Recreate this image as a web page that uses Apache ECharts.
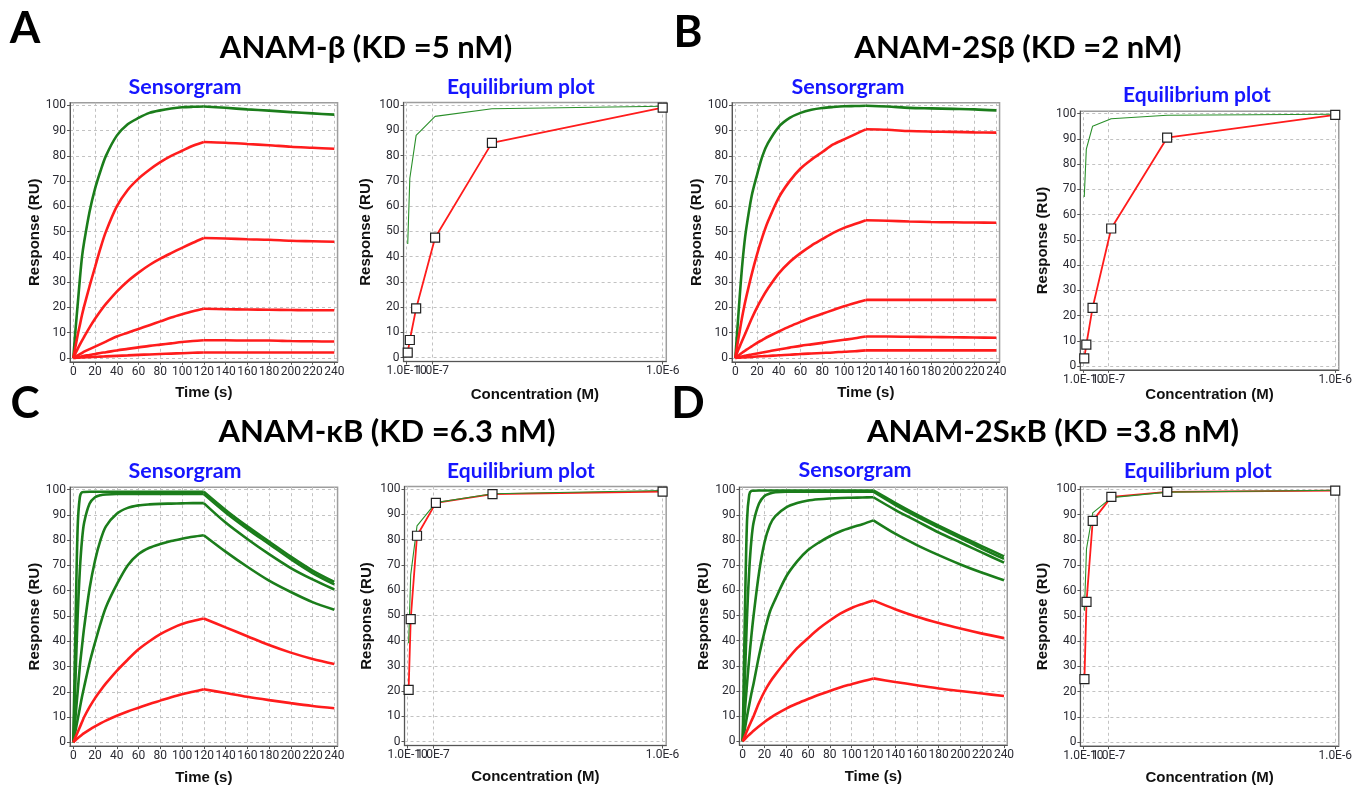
<!DOCTYPE html>
<html><head><meta charset="utf-8">
<script src="https://cdn.jsdelivr.net/npm/echarts@6/dist/echarts.min.js"></script>
<style>html,body{margin:0;padding:0;background:#fff}#c{width:1355px;height:788px}</style>
</head><body><div id="c"></div>
<script>
// ---------- shared axes data ----------
const TIME = [0,2,4,6,8,10,15,20,25,30,40,50,60,70,80,90,100,110,120,140,160,180,200,220,240];
const INJECTION_END = 120;
const TIME_TICKS = [0,20,40,60,80,100,120,140,160,180,200,220,240];
const RESP_TICKS = [0,10,20,30,40,50,60,70,80,90,100];
const CONC_NM = [4.1,12.3,37,111,333,1000];
const CONC_TICK_VALUES = [0.1,100,1000];
const CONC_TICK_LABELS = ['1.0E-10','1.0E-7','1.0E-6'];

// ---------- panel A : ANAM-beta ----------
const A_S1 = [0,11,21,31,40,46,58,67,74,80,88,92.5,95,97,98,98.7,99.2,99.4,99.5,99,98.4,97.9,97.3,96.8,96.3];
const A_S2 = [0,4.5,9,13,17,20.5,28.5,36,43.5,50,60,66.5,71,74.5,77.5,80,82,84,85.5,85.2,84.7,84.2,83.6,83.2,82.8];
const A_S3 = [0,1.8,3.6,5.3,6.9,8.4,12.1,15.5,18.6,21.4,26.3,30.4,33.8,36.8,39.3,41.5,43.6,45.6,47.5,47.3,47,46.8,46.4,46.2,46];
const A_S4 = [0,0.5,1,1.5,2,2.5,3.5,4.5,5.5,6.5,8.5,10,11.5,13,14.5,16,17.3,18.5,19.5,19.3,19.2,19.1,19,18.9,18.9];
const A_S5 = [0,0.2,0.4,0.5,0.7,0.9,1.2,1.6,2,2.3,3,3.6,4.2,4.8,5.3,5.8,6.3,6.7,7,7,6.9,6.9,6.7,6.6,6.5];
const A_S6 = [0,0.05,0.1,0.15,0.2,0.25,0.35,0.45,0.55,0.65,0.85,1.05,1.25,1.4,1.6,1.75,1.9,2.05,2.2,2.2,2.2,2.2,2.2,2.2,2.2];
const A_EQ_MEAS = [2,7,19.5,47.5,85,99];
const A_EQ_FIT = [45,71,88,95.5,98.5,99.5];

// ---------- panel B : ANAM-2S beta ----------
const B_S1 = [0,12,24,35,44,51,64,72.5,80,85,91.5,95,97,98.2,98.9,99.3,99.6,99.7,99.8,99.5,99,98.8,98.6,98.4,98];
const B_S2 = [0,5.5,10.5,15.5,20,24,33,41,48,54,63.5,70,75,78.5,81.5,84.5,86.5,88.5,90.5,90.3,89.8,89.6,89.5,89.3,89.2];
const B_S3 = [0,2.5,4.5,6.5,8.5,10.5,15.5,20,24,27.5,33.5,38,41.5,44.5,47,49.5,51.5,53,54.5,54.3,54,53.8,53.7,53.6,53.5];
const B_S4 = [0,0.7,1.3,2,2.6,3.2,4.6,6,7.2,8.4,10.5,12.5,14.3,16,17.5,19,20.5,21.8,23,23,23,23,23,23,23];
const B_S5 = [0,0.2,0.4,0.6,0.8,1,1.4,1.8,2.2,2.6,3.4,4.1,4.8,5.4,6,6.6,7.2,7.8,8.5,8.5,8.4,8.3,8.2,8.1,8];
const B_S6 = [0,0.1,0.1,0.2,0.2,0.3,0.4,0.6,0.7,0.8,1.1,1.3,1.6,1.8,2,2.2,2.5,2.7,3,3,3,3,3,3,3];
const B_EQ_MEAS = [3,8.5,23,54.5,90.5,99.5];
const B_EQ_FIT = [67,86,95,98,99.4,99.8];

// ---------- panel C : ANAM-kappaB ----------
const C_S1 = [0,45,85,97,99,99.1,99.2,99.2,99.2,99.2,99.2,99.2,99.2,99.2,99.2,99.2,99.2,99.2,99.2,92,85.5,79.5,73.5,68,63.5];
const C_S2 = [0,25,50,68,80,87,94.5,97,97.8,98.1,98.3,98.3,98.3,98.3,98.3,98.3,98.3,98.3,98.3,91,84.5,78.5,72.5,67,62.5];
const C_S3 = [0,10,20,30,38,45.5,61,72,80,85.5,90.5,92.8,93.8,94.2,94.4,94.5,94.6,94.7,94.7,87,80.5,74.5,69,64.5,60.5];
const C_S4 = [0,4.5,9,13.5,18,22,31.5,39.5,47,53.5,62.5,70,74.5,77,78.5,79.7,80.6,81.4,82,75.5,69.5,64,59.5,55.5,52.5];
const C_S5 = [0,2,4,6,8,10,14,17.5,20.5,23.3,28.3,32.7,36.8,40,42.8,45,46.8,48,49,45.5,42,38.5,35.5,33,31];
const C_S6 = [0,0.8,1.6,2.3,3,3.6,5,6.3,7.5,8.6,10.5,12.2,13.7,15.2,16.5,17.8,19,20,21,19.5,18,16.7,15.5,14.4,13.5];
const C_EQ_MEAS = [20.5,48.5,81.5,94.5,98,99];
const C_EQ_FIT = [39,66,85.4,94.6,98.1,99.4];

// ---------- panel D : ANAM-2S kappaB ----------
const D_S1 = [0,50,88,98,99.5,99.6,99.7,99.7,99.7,99.7,99.7,99.7,99.7,99.7,99.7,99.7,99.7,99.7,99.7,94.8,90.1,85.7,81.5,77.5,73.5];
const D_S2 = [0,25,50,68,80,87,94.5,97.5,98.5,99,99.2,99.2,99.2,99.2,99.2,99.2,99.2,99.2,99.2,94,89.3,85,80.8,76.5,72.5];
const D_S3 = [0,12,23,33,42,50,67,79,86,89.5,93,94.7,95.7,96.2,96.5,96.7,96.8,96.9,97,92,87.5,83,79,75,71];
const D_S4 = [0,5,10,14.5,19,23,34,43.5,51.5,56.5,65.5,71.5,76,79,81.5,83.5,85,86.3,87.8,82.5,78,74,70.3,67,64];
const D_S5 = [0,2.1,4.2,6.2,8.1,10,15.3,19.8,23.5,26.5,32,37,41,44.8,48,50.8,53,54.6,56,52.5,49.5,47,44.8,42.8,41];
const D_S6 = [0,0.9,1.8,2.6,3.4,4.2,6,7.7,9.2,10.6,13,15,16.8,18.5,20,21.5,22.7,23.9,25,23.6,22.3,21,20,19,18];
const D_EQ_MEAS = [25,55.5,87.5,97,99,99.5];
const D_EQ_FIT = [52,76.5,90.7,96.7,98.9,99.6];

// ---------- styling / layout ----------
const GREEN = '#1b7d1b', RED = '#ff1c1c', G = GREEN, R = RED;
const panels = [
  {letter:'A', title:'ANAM-\u03b2 (KD =5 nM)', curves:[A_S1,A_S2,A_S3,A_S4,A_S5,A_S6], colors:[G,R,R,R,R,R], meas:A_EQ_MEAS, fit:A_EQ_FIT,
   L:{letter:[25,29], title:[366,48], sensT:[185,87], eqT:[521,87],
      sens:{x0:73.3,x1:334.3,y100:105.3,y0:358}, eq:{x0:406.7,x1:662.7,y100:105,y0:357.7}, eqGap:26}},
  {letter:'B', title:'ANAM-2S\u03b2 (KD =2 nM)', curves:[B_S1,B_S2,B_S3,B_S4,B_S5,B_S6], colors:[G,R,R,R,R,R], meas:B_EQ_MEAS, fit:B_EQ_FIT,
   L:{letter:[688,33], title:[1018,48], sensT:[848,87], eqT:[1197,95],
      sens:{x0:735.3,x1:996.3,y100:105.3,y0:358}, eq:{x0:1083.3,x1:1339.3,y100:113.7,y0:366}, eqGap:18}},
  {letter:'C', title:'ANAM-\u03baB (KD =6.3 nM)', curves:[C_S1,C_S2,C_S3,C_S4,C_S5,C_S6], colors:[G,G,G,G,R,R], meas:C_EQ_MEAS, fit:C_EQ_FIT,
   L:{letter:[25,404], title:[387,432], sensT:[185,471], eqT:[521,471],
      sens:{x0:73.3,x1:334.3,y100:489.7,y0:742.3}, eq:{x0:407.6,x1:662.6,y100:489,y0:741.7}, eqGap:24}},
  {letter:'D', title:'ANAM-2S\u03baB (KD =3.8 nM)', curves:[D_S1,D_S2,D_S3,D_S4,D_S5,D_S6], colors:[G,G,G,G,R,R], meas:D_EQ_MEAS, fit:D_EQ_FIT,
   L:{letter:[688,404], title:[1053,432], sensT:[855,470], eqT:[1198,471],
      sens:{x0:742.7,x1:1004,y100:489.7,y0:741.3}, eq:{x0:1083.5,x1:1340.7,y100:489.3,y0:742.3}, eqGap:24}}
];

const S_XMIN=-3, S_XMAX=243, YMIN=-1.5, YMAX=101;
const E_XMIN=-12, E_XMAX=1014;

function gridRect(pos, xa, xb, xmin, xmax){
  const ppx=(pos.x1-pos.x0)/(xb-xa), ppy=(pos.y0-pos.y100)/100;
  return {left:pos.x0+(xmin-xa)*ppx, width:(xmax-xmin)*ppx,
          top:pos.y100-(YMAX-100)*ppy, height:(YMAX-YMIN)*ppy,
          show:true, borderColor:'#9d9d9d', borderWidth:1.5, containLabel:false};
}
const nameStyle = {fontFamily:'Liberation Sans, Arial, sans-serif', fontWeight:'bold', fontSize:15, color:'#111'};
const labStyle = {fontFamily:'Roboto, sans-serif', fontSize:12, color:'#2b2b33'};
const splitStyle = {show:true, lineStyle:{color:'#c2c2c2', type:[3,3], width:1}};
function axisBase(gi, min, max, ticks, labels, fmt, name, gap, position){
  return {type:'value', gridIndex:gi, min:min, max:max, position:position,
    axisLine:{show:true, onZero:false, lineStyle:{color:'#555', width:1}},
    axisTick:{show:true, length:3, customValues:ticks, lineStyle:{color:'#555'}},
    axisLabel:Object.assign({customValues:labels, formatter:fmt, margin:4, hideOverlap:false}, labStyle),
    splitLine:splitStyle, minorTick:{show:false},
    name:name, nameLocation:'middle', nameGap:gap, nameTextStyle:nameStyle};
}
const concFmt = v => CONC_TICK_LABELS[CONC_TICK_VALUES.indexOf(v)];
const split = TIME.indexOf(INJECTION_END);

const grids=[], xAxes=[], yAxes=[], series=[], graphics=[];
const titleFont = 'Lato, "Open Sans", sans-serif';
panels.forEach((p,i)=>{
  const gs=2*i, ge=2*i+1;
  grids.push(gridRect(p.L.sens,0,240,S_XMIN,S_XMAX));
  grids.push(gridRect(p.L.eq,0.1,1000,E_XMIN,E_XMAX));
  const xsIdx = xAxes.length;
  xAxes.push(axisBase(gs,S_XMIN,S_XMAX,TIME_TICKS,TIME_TICKS,v=>String(v),'Time (s)',24,'bottom'));
  const xeIdx = xAxes.length;
  xAxes.push(axisBase(ge,E_XMIN,E_XMAX,CONC_TICK_VALUES,[CONC_TICK_VALUES[0],CONC_TICK_VALUES[2]],concFmt,'Concentration (M)',p.L.eqGap,'bottom'));
  // companion bottom axis carrying the middle (overlapping) concentration label
  xAxes.push({type:'value', gridIndex:ge, min:E_XMIN, max:E_XMAX, position:'bottom', offset:0, z:3,
    axisLine:{show:false, onZero:false}, axisTick:{show:false}, splitLine:{show:false},
    axisLabel:Object.assign({customValues:[CONC_TICK_VALUES[1]], formatter:concFmt, margin:4, hideOverlap:false}, labStyle)});
  yAxes.push(axisBase(gs,YMIN,YMAX,RESP_TICKS,RESP_TICKS,v=>String(v),'Response (RU)',28,'left'));
  yAxes.push(axisBase(ge,YMIN,YMAX,RESP_TICKS,RESP_TICKS,v=>String(v),'Response (RU)',30,'left'));
  const ysIdx = 2*i, yeIdx = 2*i+1;
  p.curves.forEach((c,k)=>{
    const pts = TIME.map((t,j)=>[t,c[j]]);
    [pts.slice(0,split+1), pts.slice(split)].forEach(seg=>{
      series.push({type:'line', xAxisIndex:xsIdx, yAxisIndex:ysIdx, showSymbol:false, symbol:'none', smooth:0.3,
        data:seg, lineStyle:{color:p.colors[k], width:2.6}, z:3, silent:true});
    });
  });
  series.push({type:'line', xAxisIndex:xeIdx, yAxisIndex:yeIdx, symbol:'none', data:CONC_NM.map((c,j)=>[c,p.meas[j]]),
    lineStyle:{color:RED, width:1.8}, z:3});
  series.push({type:'line', xAxisIndex:xeIdx, yAxisIndex:yeIdx, symbol:'none', data:CONC_NM.map((c,j)=>[c,p.fit[j]]),
    lineStyle:{color:'#2a8f2a', width:1.1}, z:4});
  series.push({type:'scatter', xAxisIndex:xeIdx, yAxisIndex:yeIdx, symbol:'rect', symbolSize:9,
    data:CONC_NM.map((c,j)=>[c,p.meas[j]]),
    itemStyle:{color:'#fff', borderColor:'#222', borderWidth:1.2, opacity:1}, z:5});

  graphics.push({type:'text', x:p.L.letter[0], y:p.L.letter[1], style:{text:p.letter, font:'bold 44px '+titleFont, fill:'#000', align:'center', verticalAlign:'middle'}});
  graphics.push({type:'text', x:p.L.title[0], y:p.L.title[1], style:{text:p.title, font:'bold 31px '+titleFont, fill:'#000', align:'center', verticalAlign:'middle'}});
  graphics.push({type:'text', x:p.L.sensT[0], y:p.L.sensT[1], style:{text:'Sensorgram', font:'bold 21.5px '+titleFont, fill:'#1616ff', align:'center', verticalAlign:'middle'}});
  graphics.push({type:'text', x:p.L.eqT[0], y:p.L.eqT[1], style:{text:'Equilibrium plot', font:'bold 21px '+titleFont, fill:'#1616ff', align:'center', verticalAlign:'middle'}});
});

const chart = echarts.init(document.getElementById('c'), null, {renderer:'canvas', width:1355, height:788});
chart.setOption({animation:false, backgroundColor:'#fff', grid:grids, xAxis:xAxes, yAxis:yAxes, series:series, graphic:graphics});
</script></body></html>
